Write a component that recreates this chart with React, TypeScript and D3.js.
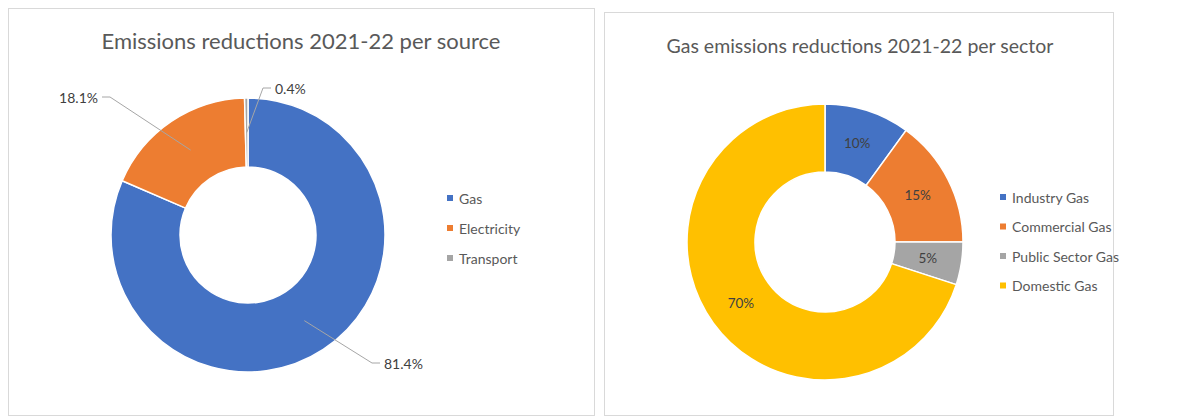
import React from "react";
import * as d3 from "d3";

const sourceCategories = ["Gas", "Electricity", "Transport"];
const sourceValues = [81.4, 18.1, 0.4];
const sourceLabels = ["81.4%", "18.1%", "0.4%"];

const sectorCategories = ["Industry Gas", "Commercial Gas", "Public Sector Gas", "Domestic Gas"];
const sectorValues = [10, 15, 5, 70];
const sectorLabels = ["10%", "15%", "5%", "70%"];

const sourceColors = ["#4472C4", "#ED7D31", "#A5A5A5"];
const sectorColors = ["#4472C4", "#ED7D31", "#A5A5A5", "#FFC000"];

const FONT = "Lato, 'Open Sans', sans-serif";
const TEXT = "#595959";
const LABEL = "#404040";

// label placement for outside labels (relative to donut centre), layout only
const sourceLabelPos = [
  { x: 136, y: 128, anchor: "start" },
  { x: -150, y: -138, anchor: "end" },
  { x: 27, y: -147, anchor: "start" },
];

function Donut({ cx, cy, R, r, values, colors, labels, outside, labelPos }: any) {
  const pie = d3.pie<number>().sort(null).value((d) => d)(values);
  const arc = d3.arc<any>().innerRadius(r).outerRadius(R);
  const mid = d3.arc<any>().innerRadius((r + R) / 2).outerRadius((r + R) / 2);
  return (
    <g transform={`translate(${cx},${cy})`}>
      {pie.map((p, i) => (
        <path key={i} d={arc(p) as string} fill={colors[i]} stroke="#fff" strokeWidth={1.5} />
      ))}
      {pie.map((p, i) => {
        const [mx, my] = mid.centroid(p);
        if (!outside) {
          return (
            <text key={"l" + i} x={mx} y={my} textAnchor="middle" dominantBaseline="central"
              fontFamily={FONT} fontSize={13.5} fill={LABEL}>{labels[i]}</text>
          );
        }
        const lp = labelPos[i];
        const ex = lp.anchor === "start" ? lp.x - 4 : lp.x + 4;
        const elx = lp.anchor === "start" ? ex - 8 : ex + 8;
        return (
          <g key={"l" + i}>
            <polyline points={`${mx},${my} ${elx},${lp.y} ${ex},${lp.y}`} fill="none" stroke="#A6A6A6" strokeWidth={1} />
            <text x={lp.x} y={lp.y} textAnchor={lp.anchor} dominantBaseline="central"
              fontFamily={FONT} fontSize={14} fill={LABEL}>{labels[i]}</text>
          </g>
        );
      })}
    </g>
  );
}

function Legend({ x, y, step, items, colors }: any) {
  return (
    <g>
      {items.map((t: string, i: number) => (
        <g key={i} transform={`translate(${x},${y + i * step})`}>
          <rect x={-3} y={-3} width={6} height={6} fill={colors[i]} />
          <text x={9} y={0} dominantBaseline="central" fontFamily={FONT} fontSize={14} fill={TEXT}>{t}</text>
        </g>
      ))}
    </g>
  );
}

export default function App() {
  return (
    <svg width={1197} height={418} style={{ position: "absolute", left: 0, top: 0, background: "#fff" }}>
      <rect x={8.5} y={8.5} width={586} height={407} fill="#fff" stroke="#D9D9D9" />
      <rect x={604.5} y={12.5} width={509} height={403} fill="#fff" stroke="#D9D9D9" />

      <text x={301} y={40} textAnchor="middle" dominantBaseline="central" fontFamily={FONT} fontSize={22} fill={TEXT}>
        Emissions reductions 2021-22 per source
      </text>
      <Donut cx={248} cy={235} R={137} r={68} values={sourceValues} colors={sourceColors}
        labels={sourceLabels} outside labelPos={sourceLabelPos} />
      <Legend x={450} y={198} step={30} items={sourceCategories} colors={sourceColors} />

      <text x={860} y={45} textAnchor="middle" dominantBaseline="central" fontFamily={FONT} fontSize={19.5} fill={TEXT}>
        Gas emissions reductions 2021-22 per sector
      </text>
      <Donut cx={825} cy={242} R={138} r={70} values={sectorValues} colors={sectorColors}
        labels={sectorLabels} outside={false} />
      <Legend x={1003} y={197} step={29.5} items={sectorCategories} colors={sectorColors} />
    </svg>
  );
}
